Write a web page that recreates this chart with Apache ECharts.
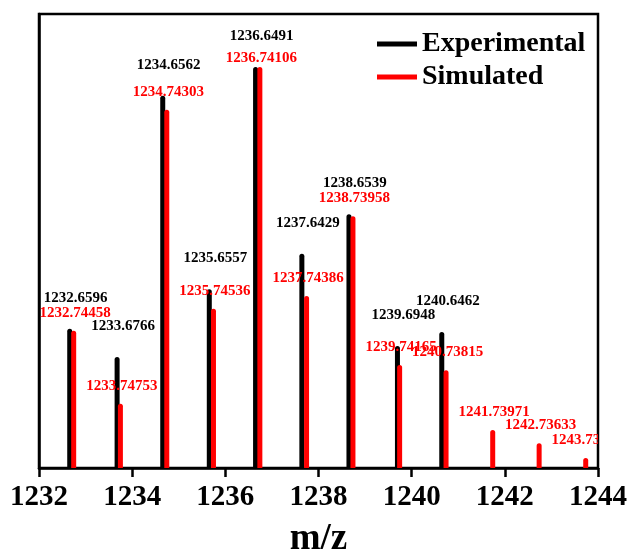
<!DOCTYPE html>
<html>
<head>
<meta charset="utf-8">
<script src="https://cdn.jsdelivr.net/npm/echarts@6/dist/echarts.min.js"></script>
<style>
  html, body { margin: 0; padding: 0; background: #ffffff; }
  #chart { width: 630px; height: 550px; }
</style>
</head>
<body>
<div id="chart"></div>
<script>
// Isotope pattern: measured peaks (black) and simulated peaks (red)
const expMz = [1232.6596, 1233.6766, 1234.6562, 1235.6557, 1236.6491, 1237.6429, 1238.6539, 1239.6948, 1240.6462];
const expIntensity = [34.7, 27.7, 92.8, 44.6, 100, 53.4, 63.3, 30.4, 33.9];

const simMz = [1232.74458, 1233.74753, 1234.74303, 1235.74536, 1236.74106, 1237.74386, 1238.73958, 1239.74165, 1240.73815, 1241.73971, 1242.73633, 1243.73621];
const simIntensity = [34.2, 16.0, 89.3, 39.7, 100, 42.9, 62.8, 25.7, 24.4, 9.5, 6.2, 2.5];

const xMin = 1232, xMax = 1244, xStep = 2;
const seriesNames = ['Experimental', 'Simulated'];

const SERIF = '"Liberation Serif", "Times New Roman", serif';

// draws one stick per peak plus its m/z label above it
function stickRenderer(color, decimals, labelDx, labelLift) {
  return function (params, api) {
    const mz = api.value(0);
    const inten = api.value(1);
    const top = api.coord([mz, inten]);
    const base = api.coord([mz, 0]);
    const w = 5;
    return {
      type: 'group',
      children: [
        {
          type: 'rect',
          shape: { x: top[0] - w / 2, y: top[1], width: w, height: base[1] - top[1], r: [2.5, 2.5, 0, 0] },
          style: { fill: color }
        },
        {
          type: 'text',
          x: top[0] + labelDx,
          y: top[1] - labelLift(params.dataIndex),
          style: {
            text: mz.toFixed(decimals),
            fill: color,
            font: 'bold 15px ' + SERIF,
            align: 'center',
            verticalAlign: 'middle'
          }
        }
      ]
    };
  };
}

const chart = echarts.init(document.getElementById('chart'), null, { renderer: 'canvas' });

chart.setOption({
  backgroundColor: '#ffffff',
  animation: false,
  grid: {
    left: 39, right: 32, top: 14, bottom: 82,
    outerBoundsMode: 'none',
    containLabel: false,
    show: true, borderColor: '#000', borderWidth: 2.5, backgroundColor: 'transparent'
  },
  legend: {
    orient: 'vertical',
    left: 372, top: 25,
    itemWidth: 40, itemHeight: 5, itemGap: 5,
    data: seriesNames.map(n => ({ name: n, icon: 'rect' })),
    textStyle: { fontFamily: SERIF, fontWeight: 'bold', fontSize: 28, color: '#000' }
  },
  xAxis: {
    type: 'value',
    min: xMin, max: xMax, interval: xStep,
    name: 'm/z', nameLocation: 'middle', nameGap: 53,
    nameTextStyle: { fontFamily: SERIF, fontWeight: 'bold', fontSize: 37, color: '#000' },
    axisLine: { show: true, lineStyle: { color: '#000', width: 2.5 } },
    axisTick: { show: true, inside: false, length: 9, lineStyle: { color: '#000', width: 2.5 } },
    axisLabel: {
      fontFamily: SERIF, fontWeight: 'bold', fontSize: 29, color: '#000', margin: 15,
      formatter: v => String(v)
    },
    splitLine: { show: false }
  },
  yAxis: {
    type: 'value',
    min: 0, max: 113.2,
    axisLine: { show: true, lineStyle: { color: '#000', width: 2.5 } },
    axisTick: { show: false },
    axisLabel: { show: false },
    splitLine: { show: false }
  },
  series: [
    {
      name: seriesNames[0],
      type: 'custom',
      clip: true,
      itemStyle: { color: '#000000' },
      data: expMz.map((m, i) => [m, expIntensity[i]]),
      renderItem: stickRenderer('#000000', 4, 6, () => 31)
    },
    {
      name: seriesNames[1],
      type: 'custom',
      clip: true,
      itemStyle: { color: '#ff0000' },
      data: simMz.map((m, i) => [m, simIntensity[i]]),
      renderItem: stickRenderer('#ff0000', 5, 1.5, i => (i === 4 ? 9 : 18))
    }
  ]
});
</script>
</body>
</html>
